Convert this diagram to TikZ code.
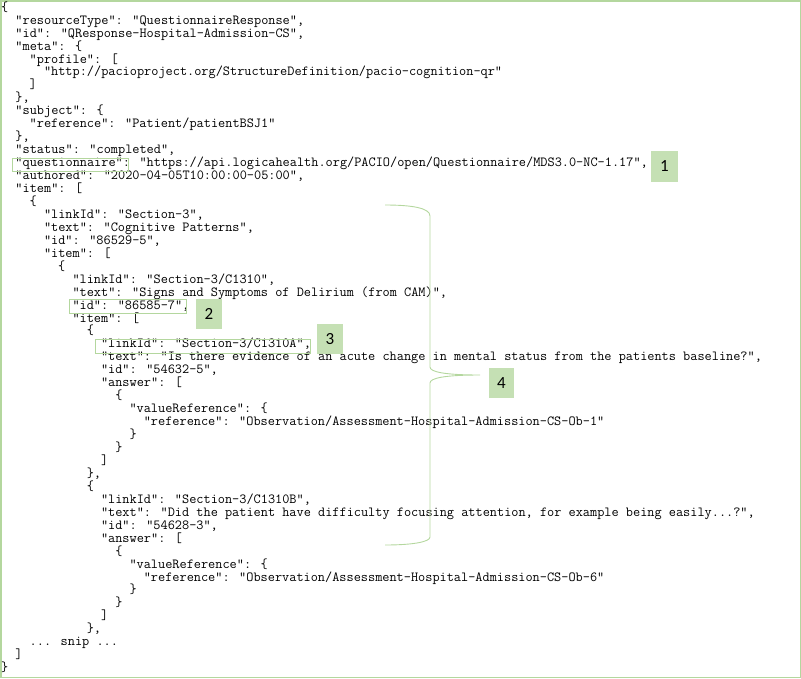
\documentclass[tikz,border=0pt]{standalone}
\usepackage{fontspec}
\newfontfamily\tagfont{Carlito}
\definecolor{tagfill}{HTML}{C5E0B4}
\definecolor{tagline}{HTML}{B4D79E}

\begin{document}
\begin{tikzpicture}[x=1pt,y=-1pt,
    json/.style={anchor=base west, inner sep=0pt, font=\ttfamily\fontsize{13.9}{15}\selectfont},
    tagbox/.style={fill=tagfill, draw=none, inner sep=0pt, font=\tagfont\fontsize{17}{17}\selectfont},
    hilite/.style={draw=tagline, line width=0.9pt}]
        \useasboundingbox (0,0) rectangle (801,678);
        \draw[tagline, line width=1.5pt] (0.75,0.75) rectangle (800.25,677.25);
        % the json text, one node per line
        \node[json] (l1) at (1, 11.2) {\{};
        \node[json] (l2) at (15.3, 24.15) {"resourceType": "QuestionnaireResponse",};
        \node[json] (l3) at (15.3, 37.1) {"id": "QResponse-Hospital-Admission-CS",};
        \node[json] (l4) at (15.3, 50.05) {"meta": \{};
        \node[json] (l5) at (29.5, 63) {"profile": [};
        \node[json] (l6) at (43.8, 75.95) {"http://pacioproject.org/StructureDefinition/pacio-cognition-qr"};
        \node[json] (l7) at (29.5, 88.9) {]};
        \node[json] (l8) at (15.3, 101.85) {\},};
        \node[json] (l9) at (15.3, 114.8) {"subject": \{};
        \node[json] (l10) at (29.5, 127.75) {"reference": "Patient/patientBSJ1"};
        \node[json] (l11) at (15.3, 140.7) {\},};
        \node[json] (l12) at (15.3, 153.65) {"status": "completed",};
        \node[json] (l13) at (15.3, 166.6) {"questionnaire": "https://api.logicahealth.org/PACIO/open/Questionnaire/MDS3.0-NC-1.17",};
        \node[json] (l14) at (15.3, 179.55) {"authored": "2020-04-05T10:00:00-05:00",};
        \node[json] (l15) at (15.3, 192.5) {"item": [};
        \node[json] (l16) at (29.5, 205.45) {\{};
        \node[json] (l17) at (43.8, 218.4) {"linkId": "Section-3",};
        \node[json] (l18) at (43.8, 231.35) {"text": "Cognitive Patterns",};
        \node[json] (l19) at (43.8, 244.3) {"id": "86529-5",};
        \node[json] (l20) at (43.8, 257.25) {"item": [};
        \node[json] (l21) at (58, 270.2) {\{};
        \node[json] (l22) at (72.3, 283.15) {"linkId": "Section-3/C1310",};
        \node[json] (l23) at (72.3, 296.1) {"text": "Signs and Symptoms of Delirium (from CAM)",};
        \node[json] (l24) at (72.3, 309.05) {"id": "86585-7",};
        \node[json] (l25) at (72.3, 322) {"item": [};
        \node[json] (l26) at (86.6, 334.95) {\{};
        \node[json] (l27) at (100.8, 347.9) {"linkId": "Section-3/C1310A",};
        \node[json] (l28) at (100.8, 360.85) {"text": "Is there evidence of an acute change in mental status from the patients baseline?",};
        \node[json] (l29) at (100.8, 373.8) {"id": "54632-5",};
        \node[json] (l30) at (100.8, 386.75) {"answer": [};
        \node[json] (l31) at (115.1, 399.7) {\{};
        \node[json] (l32) at (129.3, 412.65) {"valueReference": \{};
        \node[json] (l33) at (143.6, 425.6) {"reference": "Observation/Assessment-Hospital-Admission-CS-Ob-1"};
        \node[json] (l34) at (129.3, 438.55) {\}};
        \node[json] (l35) at (115.1, 451.5) {\}};
        \node[json] (l36) at (100.8, 464.45) {]};
        \node[json] (l37) at (86.6, 477.4) {\},};
        \node[json] (l38) at (86.6, 490.35) {\{};
        \node[json] (l39) at (100.8, 503.3) {"linkId": "Section-3/C1310B",};
        \node[json] (l40) at (100.8, 516.25) {"text": "Did the patient have difficulty focusing attention, for example being easily...?",};
        \node[json] (l41) at (100.8, 529.2) {"id": "54628-3",};
        \node[json] (l42) at (100.8, 542.15) {"answer": [};
        \node[json] (l43) at (115.1, 555.1) {\{};
        \node[json] (l44) at (129.3, 568.05) {"valueReference": \{};
        \node[json] (l45) at (143.6, 581) {"reference": "Observation/Assessment-Hospital-Admission-CS-Ob-6"};
        \node[json] (l46) at (129.3, 593.95) {\}};
        \node[json] (l47) at (115.1, 606.9) {\}};
        \node[json] (l48) at (100.8, 619.85) {]};
        \node[json] (l49) at (86.6, 632.8) {\},};
        \node[json] (l50) at (29.5, 645.75) {... snip ...};
        \node[json] (l51) at (15.3, 658.7) {]};
        \node[json] (l52) at (1, 671.65) {\}};
        % outlined keys
        \draw[hilite] (12.7,158) rectangle (128,171);
        \draw[hilite] (69.3,299) rectangle (186.7,313.3);
        \draw[hilite] (95,339) rectangle (310.7,353);
        % brace over the nested items
        \draw[hilite] (385,205) .. controls (412,205) and (430,208) .. (430,216)
            -- (430,367) .. controls (430,372) and (445,375) .. (480,375)
            .. controls (445,375) and (430,378) .. (430,383)
            -- (430,537) .. controls (430,542) and (412,545) .. (385,545);
        % numbered tags
        \node[tagbox, minimum width=27, minimum height=31] (t1) at (664.5,166.5) {1};
        \node[tagbox, minimum width=26, minimum height=30] (t2) at (209,314) {2};
        \node[tagbox, minimum width=26, minimum height=30] (t3) at (330,339) {3};
        \node[tagbox, minimum width=25, minimum height=30] (t4) at (501.5,383) {4};
      \end{tikzpicture}
\end{document}
